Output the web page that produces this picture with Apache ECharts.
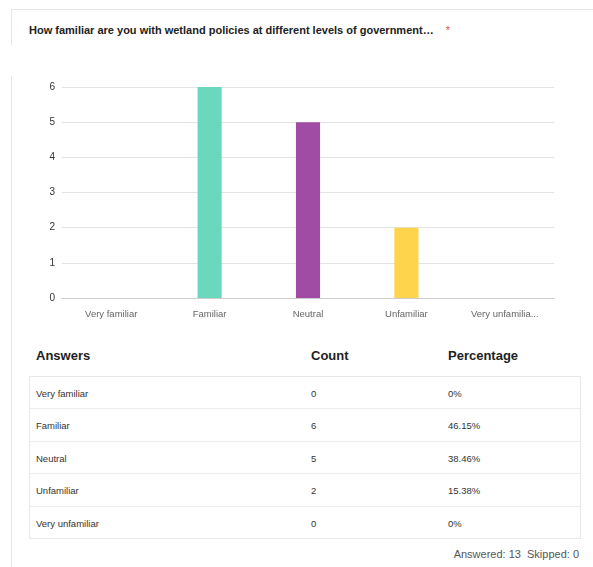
<!DOCTYPE html>
<html>
<head>
<meta charset="utf-8">
<script src="https://cdn.jsdelivr.net/npm/echarts@6/dist/echarts.min.js"></script>
<style>
  html, body { margin:0; padding:0; background:#fff; width:593px; height:567px; overflow:hidden;
    font-family: "Liberation Sans", Arial, sans-serif; }
  .abs { position:absolute; }
  #card1 { left:11px; top:9px; width:600px; height:35px; border-left:1px solid #e6e6e6; border-top:1px solid #e6e6e6; }
  #card2 { left:11px; top:76px; width:600px; height:500px; border-left:1px solid #e6e6e6; }
  #title { left:29px; top:24px; font-size:11px; font-weight:bold; color:#222; white-space:nowrap; }
  #title span { color:#e0553d; font-weight:normal; margin-left:12px; }
  #chart { left:0; top:70px; width:593px; height:262px; }
  .hdr { top:348px; font-size:13px; font-weight:bold; color:#222; }
  #tbl { left:29px; top:376px; width:550px; border:1px solid #e8e8e8; }
  .row { position:relative; box-sizing:border-box; height:32.4px; border-top:1px solid #ececec; font-size:9.5px; color:#333; }
  .row:first-child { border-top:none; height:31.4px; }
  .row div { position:absolute; top:11px; }
  .row:first-child div { top:11px; }
  #foot { right:14px; top:548px; font-size:11px; color:#555; }
</style>
</head>
<body>
<div id="card1" class="abs"></div>
<div id="card2" class="abs"></div>
<div id="title" class="abs">How familiar are you with wetland policies at different levels of government…<span>*</span></div>
<div id="chart" class="abs"></div>
<div class="abs hdr" style="left:36px">Answers</div>
<div class="abs hdr" style="left:311px">Count</div>
<div class="abs hdr" style="left:448px">Percentage</div>
<div id="tbl" class="abs"></div>
<div id="foot" class="abs"></div>
<script>
const categories = ["Very familiar", "Familiar", "Neutral", "Unfamiliar", "Very unfamiliar"];
const axisLabels = ["Very familiar", "Familiar", "Neutral", "Unfamiliar", "Very unfamilia..."];
const counts = [0, 6, 5, 2, 0];
const percentages = ["0%", "46.15%", "38.46%", "15.38%", "0%"];
const barColors = ["#6ad8bd", "#6ad8bd", "#a14ca4", "#fdd44c", "#6ad8bd"];
const answered = 13;
const skipped = 0;

const chart = echarts.init(document.getElementById('chart'), null, {renderer:'canvas'});
chart.setOption({
  animation:false,
  grid:{ left:62, right:39, top:17, bottom:34, containLabel:false },
  xAxis:{
    type:'category',
    data: axisLabels,
    axisLine:{ lineStyle:{ color:'#cccccc' } },
    axisTick:{ alignWithLabel:true, length:3, lineStyle:{ color:'#bbbbbb' } },
    axisLabel:{ color:'#666', fontSize:9.5, fontFamily:'Liberation Sans', margin:11 }
  },
  yAxis:{
    type:'value', min:0, max:6, interval:1,
    axisLine:{ show:false }, axisTick:{ show:false },
    axisLabel:{ color:'#333', fontSize:10, fontFamily:'Liberation Sans', margin:7 },
    splitLine:{ lineStyle:{ color:'#e3e3e3' } }
  },
  series:[{
    type:'bar',
    barWidth:'24.5%',
    data: counts.map((v,i)=>({ value:v, itemStyle:{ color: barColors[i] } }))
  }]
});

const tbl = document.getElementById('tbl');
categories.forEach((c,i)=>{
  const r = document.createElement('div');
  r.className='row';
  r.innerHTML = '<div style="left:6px">'+c+'</div><div style="left:281px">'+counts[i]+'</div><div style="left:418px">'+percentages[i]+'</div>';
  tbl.appendChild(r);
});
document.getElementById('foot').textContent = 'Answered: ' + answered + '\u00a0\u00a0Skipped: ' + skipped;
</script>
</body>
</html>
